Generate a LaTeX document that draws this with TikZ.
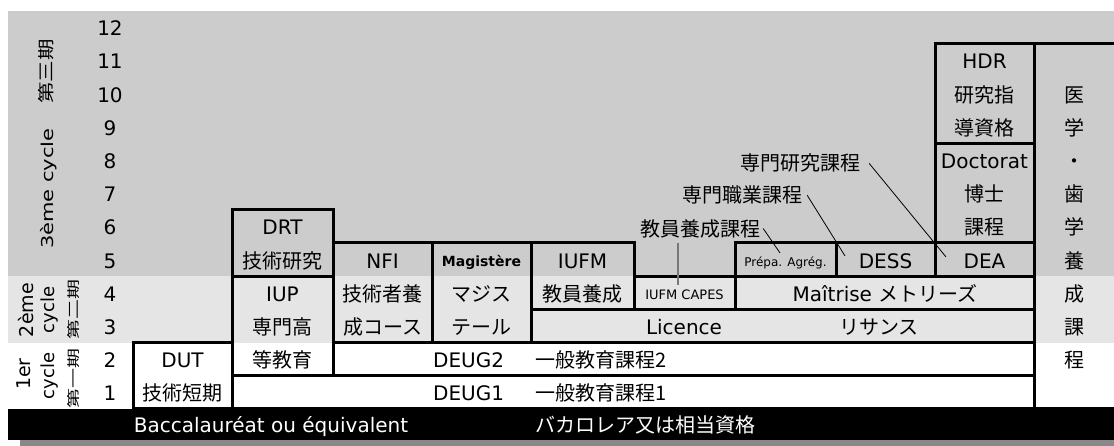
\documentclass[tikz,border=0pt]{standalone}
\usepackage{graphicx}
\usepackage{fontspec}
\setmainfont{DejaVu Sans}
\newfontfamily\jp{Noto Sans CJK JP}
\usetikzlibrary{fit}
\definecolor{bgthree}{HTML}{CCCCCC}
\definecolor{bgtwo}{HTML}{E5E5E5}
\definecolor{shadowbar}{HTML}{888888}
\definecolor{vlinecol}{HTML}{777777}
\newcommand{\J}[1]{{\jp #1}}
\begin{document}
\begin{tikzpicture}[x=1pt,y=33.2pt,
  box/.style={draw, line width=3pt, inner sep=0pt},
  tx/.style={anchor=base, inner sep=0pt, yshift=-8.5pt, font=\fontsize{20}{24}\selectfont},
  txw/.style={tx, anchor=base west},
  smalltx/.style={tx, yshift=1.5pt, font=\fontsize{12}{14}\selectfont},
  rot/.style={rotate=90, anchor=base, inner sep=0pt},
  conn/.style={line width=0.8pt}]
\useasboundingbox (0,-1.1145) rectangle (1114,12.319);
\clip (0,-1.1145) rectangle (1114,12.319);
% backgrounds
\fill[bgthree] (8,4) rectangle (1114,12);
\fill[bgtwo] (8,2) rectangle (1114,4);
\fill[black] (8,0) rectangle (1114,-0.934);
\fill[shadowbar] (20,-0.934) rectangle (1114,-1.1145);
% boxes
\node[box, fit={(133,0) (232,2)}] (dut) {};
\node[box, fit={(232,4) (333,6)}] (drt) {};
\node[box, fit={(232,1) (333,4)}] (iup) {};
\node[box, fit={(232,0) (1034,1)}] (deug1) {};
\node[box, fit={(333,1) (1034,2)}] (deug2) {};
\node[box, fit={(333,2) (432,5)}] (nfi) {};
\node[box, fit={(432,2) (531,5)}] (mag) {};
\node[box, fit={(531,3) (634,5)}] (iufm) {};
\node[box, fit={(634,3) (735,4)}] (capes) {};
\node[box, fit={(531,2) (1034,3)}] (lic) {};
\node[box, fit={(735,4) (836,5)}] (prepa) {};
\node[box, fit={(836,4) (935,5)}] (dess) {};
\node[box, fit={(935,4) (1034,5)}] (dea) {};
\node[box, fit={(735,3) (1034,4)}] (mai) {};
\node[box, fit={(935,5) (1034,8)}] (doc) {};
\node[box, fit={(935,8) (1034,11)}] (hdr) {};
\node[box, fit={(1034,0) (1150,11)}] (med) {};
% year numbers
\foreach \r in {1,...,12} \node[tx] (n\r) at (110,\r-0.5) {\r};
% left labels
\node[rot, font=\fontsize{21}{24}\selectfont] (c3a) at (53,6.64) {\scalebox{1}[0.78]{3ème cycle}};
\node[rot, font=\fontsize{21.5}{24}\selectfont] (c3b) at (52.5,10.17) {\scalebox{1}[0.78]{\J{第三期}}};
\node[rot, font=\fontsize{19}{24}\selectfont] (c2a) at (33,2.98) {2ème};
\node[rot, font=\fontsize{18}{24}\selectfont] (c2b) at (54,2.98) {cycle};
\node[rot, font=\fontsize{20}{24}\selectfont] (c2c) at (78,3.0) {\scalebox{1}[0.65]{\J{第二期}}};
\node[rot, font=\fontsize{19}{24}\selectfont] (c1a) at (30,1.05) {1er};
\node[rot, font=\fontsize{18}{24}\selectfont] (c1b) at (54,1.0) {cycle};
\node[rot, font=\fontsize{20}{24}\selectfont] (c1c) at (78,0.93) {\scalebox{1}[0.65]{\J{第一期}}};
% box texts
\node[tx] (tdut1) at (182.5,1.5) {DUT};
\node[tx] (tdut2) at (182.5,0.5) {\J{技術短期}};
\node[tx] (tdrt1) at (282.5,5.5) {DRT};
\node[tx] (tdrt2) at (282.5,4.5) {\J{技術研究}};
\node[tx] (tiup1) at (282.5,3.5) {IUP};
\node[tx] (tiup2) at (282.5,2.5) {\J{専門高}};
\node[tx] (tiup3) at (282.5,1.5) {\J{等教育}};
\node[tx] (tnfi1) at (382.5,4.5) {NFI};
\node[tx] (tnfi2) at (382.5,3.5) {\J{技術者養}};
\node[tx] (tnfi3) at (382.5,2.5) {\J{成コース}};
\node[smalltx, font=\bfseries\fontsize{14}{16}\selectfont] (tmag1) at (481.5,4.5) {Magistère};
\node[tx] (tmag2) at (481.5,3.5) {\J{マジス}};
\node[tx] (tmag3) at (481.5,2.5) {\J{テール}};
\node[tx] (tiufm1) at (582.5,4.5) {IUFM};
\node[tx] (tiufm2) at (582.5,3.5) {\J{教員養成}};
\node[smalltx, font=\fontsize{13}{15}\selectfont] (tcapes) at (684.5,3.5) {IUFM CAPES};
\node[smalltx] (tprepa) at (785.5,4.5) {Prépa. Agrég.};
\node[tx] (tdess) at (885.5,4.5) {DESS};
\node[tx] (tdea) at (984.5,4.5) {DEA};
\node[tx] (tmai) at (885,3.5) {Maîtrise \J{メトリーズ}};
\node[tx] (tlic1) at (684,2.5) {Licence};
\node[tx] (tlic2) at (879,2.5) {\J{リサンス}};
\node[txw] (tdeug2a) at (433,1.5) {DEUG2};
\node[txw] (tdeug2b) at (535,1.5) {\J{一般教育課程2}};
\node[txw] (tdeug1a) at (433,0.5) {DEUG1};
\node[txw] (tdeug1b) at (535,0.5) {\J{一般教育課程1}};
\node[tx] (tdoc1) at (984.5,7.5) {Doctorat};
\node[tx] (tdoc2) at (984.5,6.5) {\J{博士}};
\node[tx] (tdoc3) at (984.5,5.5) {\J{課程}};
\node[tx] (thdr1) at (984.5,10.5) {HDR};
\node[tx] (thdr2) at (984.5,9.5) {\J{研究指}};
\node[tx] (thdr3) at (984.5,8.5) {\J{導資格}};
\foreach \c/\r in {医/10, 学/9, ・/8, 歯/7, 学/6, 養/5, 成/4, 課/3, 程/2}
  \node[tx] (med\r) at (1074,\r-0.5) {\J{\c}};
\node[tx, text=white] (bac) at (271,-0.467) {Baccalauréat ou équivalent};
\node[txw, text=white] (bacj) at (535,-0.467) {\J{バカロレア又は相当資格}};
% floating labels and connectors
\node[tx, yshift=0.5pt] (lken) at (800,7.41) {\J{専門研究課程}};
\node[tx, yshift=0.5pt] (lsho) at (742,6.45) {\J{専門職業課程}};
\node[tx, yshift=0.5pt] (lkyo) at (700,5.45) {\J{教員養成課程}};
\coordinate (eken) at (946,4.58);
\coordinate (esho) at (845,4.61);
\coordinate (ekyo) at (780,4.70);
\coordinate (vtop) at (678,5.0);
\coordinate (vbot) at (678,3.73);
\draw[conn] ([xshift=9pt]lken.east) -- (eken);
\draw[conn] ([xshift=5pt]lsho.east) -- (esho);
\draw[conn] ([xshift=3pt]lkyo.east) -- (ekyo);
\draw[vlinecol, line width=1.2pt] (vtop) -- (vbot);
\end{tikzpicture}
\end{document}
